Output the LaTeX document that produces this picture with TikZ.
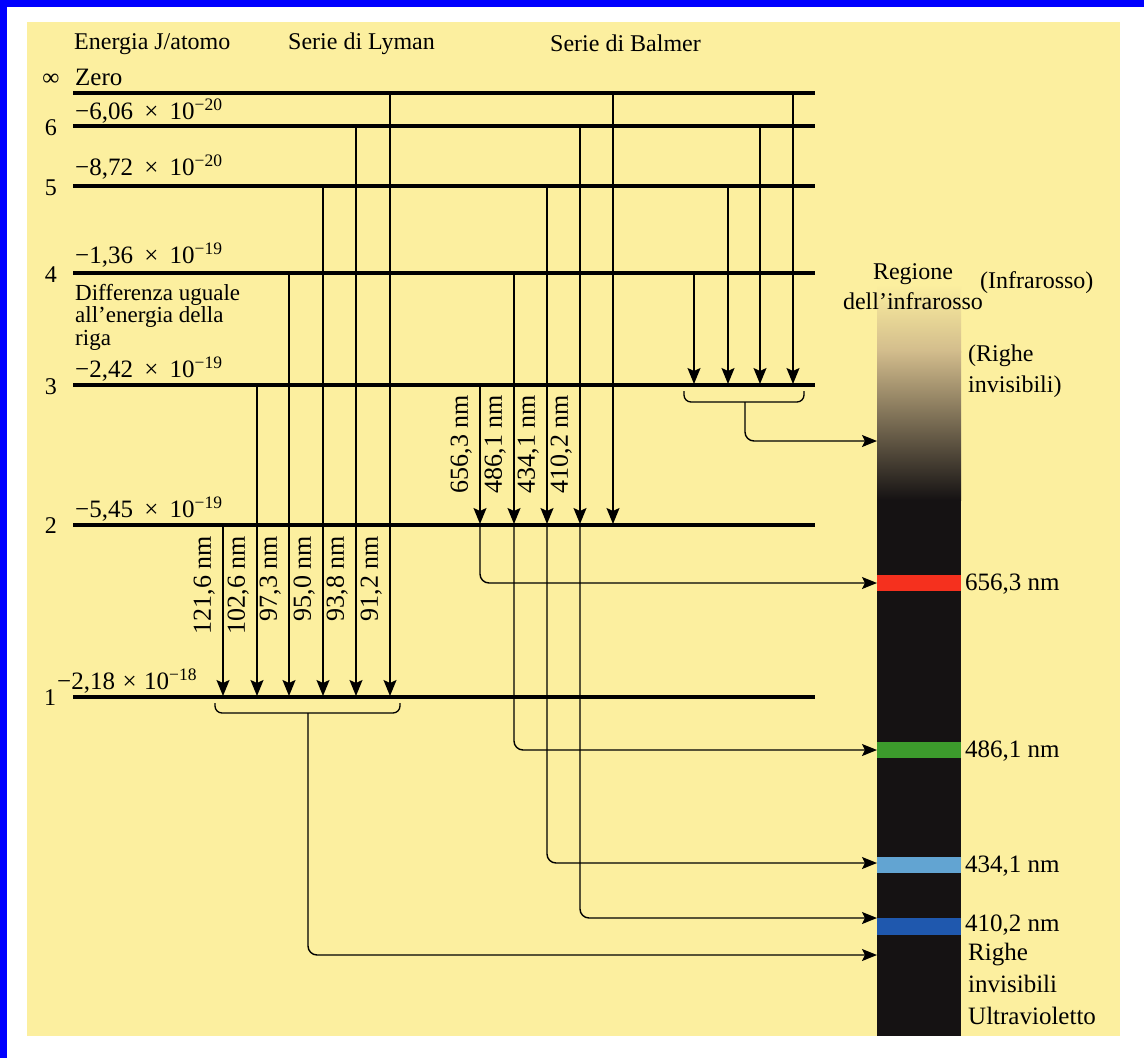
\documentclass[tikz,border=0pt]{standalone}
\usepackage{fontspec}
\setmainfont{Liberation Serif}
\usetikzlibrary{arrows.meta}
\definecolor{bg}{HTML}{FCEF9F}
\definecolor{blueborder}{HTML}{0000FF}
\definecolor{specdark}{HTML}{151213}
\definecolor{specmid}{HTML}{6E5640}
\definecolor{spectan}{HTML}{D2BC8C}
\definecolor{bandred}{HTML}{F5301E}
\definecolor{bandgreen}{HTML}{3C9B2C}
\definecolor{bandlblue}{HTML}{62A4D2}
\definecolor{bandblue}{HTML}{1F58AE}
\begin{document}
\begin{tikzpicture}[x=1pt,y=-1pt,
  lvl/.style={line width=3.2pt},
  arr/.style={line width=1.5pt,-{Stealth[length=16pt,width=13pt,inset=3pt]}},
  conn/.style={line width=1.4pt,rounded corners=9pt,-{Stealth[length=15pt,width=12pt,inset=3pt]}},
  bracket/.style={line width=1.3pt,rounded corners=7pt},
  txt/.style={font=\fontsize{24}{28}\selectfont,inner sep=0pt},
  rlab/.style={inner sep=0pt,font=\fontsize{26}{28}\selectfont,rotate=90,anchor=south east},
  val/.style={txt,anchor=west,font=\fontsize{25}{28}\selectfont},
]
\useasboundingbox (0,0) rectangle (1144,1058);
\fill[white] (0,0) rectangle (1144,1058);
\fill[blueborder] (0,0) rectangle (1144,7);
\fill[blueborder] (0,0) rectangle (7,1058);
\fill[bg] (27,22) rectangle (1120,1036);

% spectrum
\fill[specdark] (877,498) rectangle (961,1036);
\shade[top color=bg,bottom color=spectan] (877,285) rectangle (961,352);
\shade[top color=spectan,middle color=specmid,bottom color=specdark] (877,351) rectangle (961,500);
\fill[bandred] (877,575) rectangle (961,591);
\fill[bandgreen] (877,742) rectangle (961,758);
\fill[bandlblue] (877,857) rectangle (961,873);
\fill[bandblue] (877,918) rectangle (961,935);
\coordinate (spIR) at (877,441);
\coordinate (sp656) at (877,583);
\coordinate (sp486) at (877,750);
\coordinate (sp434) at (877,863);
\coordinate (sp410) at (877,918);
\coordinate (spUV) at (877,955);

% energy levels
\foreach \n/\y in {inf/93,6/126,5/186,4/273,3/385,2/525,1/697}{
  \coordinate (l\n w) at (73,\y);
  \coordinate (l\n e) at (815,\y);
  \draw[lvl] (l\n w) -- (l\n e);
}

% Lyman series
\foreach \i/\x/\a in {a/223/525,b/257/385,c/289/273,d/323/186,e/356/126,f/390/93}{
  \coordinate (ly\i s) at (\x,\a);
  \coordinate (ly\i e) at (\x,696);
  \draw[arr] (ly\i s) -- (ly\i e);
}
% Balmer series
\foreach \i/\x/\a in {a/480/385,b/514/273,c/547/186,d/580/126,e/613/93}{
  \coordinate (ba\i s) at (\x,\a);
  \coordinate (ba\i e) at (\x,524);
  \draw[arr] (ba\i s) -- (ba\i e);
}
% Paschen series
\foreach \i/\x/\a in {a/694/273,b/728/186,c/760/126,d/793/93}{
  \coordinate (pa\i s) at (\x,\a);
  \coordinate (pa\i e) at (\x,384);
  \draw[arr] (pa\i s) -- (pa\i e);
}

% Balmer lines to the spectrum
\coordinate (b1) at (480,525);
\coordinate (b2) at (514,525);
\coordinate (b3) at (547,525);
\coordinate (b4) at (580,525);
\draw[conn] (b1) |- (sp656);
\draw[conn] (b2) |- (sp486);
\draw[conn] (b3) |- (sp434);
\draw[conn] (b4) |- (sp410);

% Lyman bracket
\coordinate (lyL) at (215,703);
\coordinate (lyR) at (400,703);
\coordinate (lyM) at (308,713);
\draw[bracket] (lyL) -- (215,713) -- (400,713) -- (lyR);
\draw[conn] (lyM) |- (spUV);

% Paschen bracket
\coordinate (paL) at (684,391);
\coordinate (paR) at (804,391);
\coordinate (paM) at (745,402);
\draw[bracket] (paL) -- (684,402) -- (804,402) -- (paR);
\draw[conn] (paM) |- (spIR);

% rotated wavelength labels
\foreach \x/\t in {223/{121,6 nm},257/{102,6 nm},289/{97,3 nm},323/{95,0 nm},356/{93,8 nm},390/{91,2 nm}}{
  \node[rlab] (lyl\x) at (\x-8,536) {\t};
}
\foreach \x/\t in {480/{656,3 nm},514/{486,1 nm},547/{434,1 nm},580/{410,2 nm}}{
  \node[rlab] (bal\x) at (\x-8,395) {\t};
}

% headings
\node[txt,anchor=west] (h1) at (74,44) {Energia J/atomo};
\node[txt,anchor=west] (h2) at (288,44) {Serie di Lyman};
\node[txt,anchor=west] (h3) at (550,43) {Serie di Balmer};

% level numbers
\node[txt] (ninf) at (51,80) {∞};
\node[txt] (n6) at (51,128) {6};
\node[txt] (n5) at (51,188) {5};
\node[txt] (n4) at (51,275) {4};
\node[txt] (n3) at (51,387) {3};
\node[txt] (n2) at (51,526) {2};
\node[txt] (n1) at (50,698) {1};

% energy values
\node[val] (e0) at (75,77) {Zero};
\node[val] (e6) at (75,111) {−6,06\hspace{0.45em}×\hspace{0.45em}10\textsuperscript{−20}};
\node[val] (e5) at (75,167) {−8,72\hspace{0.45em}×\hspace{0.45em}10\textsuperscript{−20}};
\node[val] (e4) at (75,255) {−1,36\hspace{0.45em}×\hspace{0.45em}10\textsuperscript{−19}};
\node[val] (e3) at (75,369) {−2,42\hspace{0.45em}×\hspace{0.45em}10\textsuperscript{−19}};
\node[val] (e2) at (75,509) {−5,45\hspace{0.45em}×\hspace{0.45em}10\textsuperscript{−19}};
\node[val] (e1) at (57,681) {−2,18\hspace{0.3em}×\hspace{0.3em}10\textsuperscript{−18}};

\node[txt,anchor=north west,align=left,font=\fontsize{23}{22.5}\selectfont] (diff) at (75,284)
  {Differenza uguale\\all’energia della\\riga};

% right side labels
\node[txt,align=center,font=\fontsize{24}{30}\selectfont] (reg) at (913,287) {Regione\\dell’infrarosso};
\node[txt,anchor=west] (ir) at (980,283) {(Infrarosso)};
\node[txt,anchor=north west,align=left,font=\fontsize{24}{31}\selectfont] (rinv) at (968,345) {(Righe\\invisibili)};
\node[val] (w656) at (965,584) {656,3 nm};
\node[val] (w486) at (965,751) {486,1 nm};
\node[val] (w434) at (965,866) {434,1 nm};
\node[val] (w410) at (965,925) {410,2 nm};
\node[txt,anchor=north west,align=left,font=\fontsize{25}{32}\selectfont] (uv) at (968,943) {Righe\\invisibili\\Ultravioletto};
\end{tikzpicture}
\end{document}
